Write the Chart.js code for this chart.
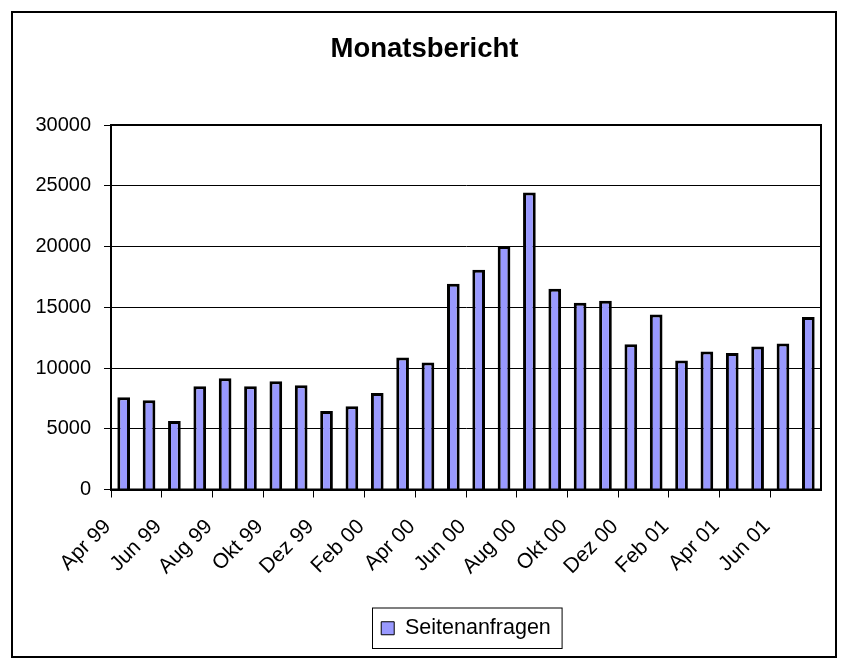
<!DOCTYPE html>
<html>
<head>
<meta charset="utf-8">
<script src="https://cdn.jsdelivr.net/npm/chart.js@4"></script>
<style>
    body { margin: 0; background: #fff; }
    #wrap { width: 849px; height: 669px; }
</style>
</head>
<body>
<div id="wrap"><canvas id="reportChart" width="849" height="669"></canvas></div>
<script>
// Monthly page requests, Apr 99 - Jul 01
const months = [
    'Apr 99', 'Mai 99', 'Jun 99', 'Jul 99', 'Aug 99', 'Sep 99', 'Okt 99', 'Nov 99', 'Dez 99',
    'Jan 00', 'Feb 00', 'Mär 00', 'Apr 00', 'Mai 00', 'Jun 00', 'Jul 00', 'Aug 00', 'Sep 00',
    'Okt 00', 'Nov 00', 'Dez 00', 'Jan 01', 'Feb 01', 'Mär 01', 'Apr 01', 'Mai 01', 'Jun 01', 'Jul 01'
];
const pageRequests = [
    7600, 7350, 5640, 8500, 9150, 8500, 8900, 8580, 6460,
    6860, 7950, 10870, 10460, 16930, 18080, 20050, 24450, 16525,
    15380, 15540, 11960, 14400, 10620, 11360, 11225, 11770, 12010, 14200
];
const yTicks = [0, 5000, 10000, 15000, 20000, 25000, 30000];

const FONT = "'Liberation Sans', Arial, sans-serif";

// white background, outer frame, plot border and legend box
const framePlugin = {
    id: 'frame',
    beforeDraw(chart) {
        const ctx = chart.ctx;
        ctx.save();
        ctx.fillStyle = '#fff';
        ctx.fillRect(0, 0, chart.width, chart.height);
        ctx.restore();
    },
    afterLayout(chart) {
        // legend centred under the plot area, title centred on the whole canvas
        const lg = chart.legend;
        const a = chart.chartArea;
        lg.left = a.left;
        lg.right = a.right;
        lg.width = a.right - a.left;
        const tb = chart.titleBlock;
        tb.left = 0;
        tb.right = chart.width;
        tb.width = chart.width;
    },
    afterDraw(chart) {
        const ctx = chart.ctx;
        const a = chart.chartArea;
        ctx.save();
        ctx.strokeStyle = '#000';
        ctx.lineWidth = 2;
        ctx.strokeRect(12, 12, 824, 645);
        ctx.strokeRect(a.left, a.top, a.right - a.left, a.bottom - a.top);

        const hb = chart.legend.legendHitBoxes[0];
        if (hb) {
            ctx.lineWidth = 1;
            ctx.strokeRect(Math.round(hb.left) - 8.5, chart.legend.top + 0.5, hb.width + 20, chart.legend.height - 1);
        }
        ctx.restore();
    }
};

const ctx = document.getElementById('reportChart').getContext('2d');
new Chart(ctx, {
    type: 'bar',
    data: {
        labels: months,
        datasets: [{
            label: 'Seitenanfragen',
            data: pageRequests,
            backgroundColor: '#9999FF',
            borderColor: '#000',
            borderWidth: 3,
            categoryPercentage: 1,
            barPercentage: 0.5
        }]
    },
    options: {
        responsive: false,
        animation: false,
        layout: {
            padding: { left: 0, right: 28, top: 0, bottom: 20 }
        },
        plugins: {
            title: {
                display: true,
                text: 'Monatsbericht',
                color: '#000',
                font: { family: FONT, size: 27.5, weight: 'bold' },
                padding: { top: 33, bottom: 59 }
            },
            legend: {
                position: 'bottom',
                labels: {
                    color: '#000',
                    font: { family: FONT, size: 21.5 },
                    boxWidth: 13,
                    boxHeight: 13,
                    padding: 10,
                    generateLabels(chart) {
                        return [{
                            text: 'Seitenanfragen',
                            fillStyle: '#9999FF',
                            strokeStyle: '#000',
                            lineWidth: 1,
                            datasetIndex: 0
                        }];
                    }
                }
            },
            tooltip: { enabled: false }
        },
        scales: {
            x: {
                afterFit(scale) { scale.height = 118; },
                grid: {
                    drawOnChartArea: false,
                    drawTicks: true,
                    tickLength: 8,
                    tickWidth: 1,
                    tickColor: (c) => (c.index % 2 === 0 ? '#000' : 'rgba(0,0,0,0)')
                },
                border: { display: true, color: '#000', width: 2 },
                ticks: {
                    autoSkip: false,
                    minRotation: 45,
                    maxRotation: 45,
                    labelOffset: -16,
                    padding: 17,
                    color: '#000',
                    font: { family: FONT, size: 21 },
                    callback: function(value, index) {
                        return index % 2 === 0 ? months[index] : '';
                    }
                }
            },
            y: {
                min: 0,
                max: 30000,
                afterFit(scale) { scale.width = 111; },
                afterBuildTicks(scale) {
                    scale.ticks = yTicks.map(v => ({ value: v }));
                },
                grid: {
                    color: '#000',
                    lineWidth: 1,
                    tickLength: 7,
                    tickColor: '#000'
                },
                border: { display: true, color: '#000', width: 2 },
                ticks: {
                    padding: 13,
                    color: '#000',
                    font: { family: FONT, size: 20 },
                    callback: (value) => String(value)
                }
            }
        }
    },
    plugins: [framePlugin]
});
</script>
</body>
</html>
